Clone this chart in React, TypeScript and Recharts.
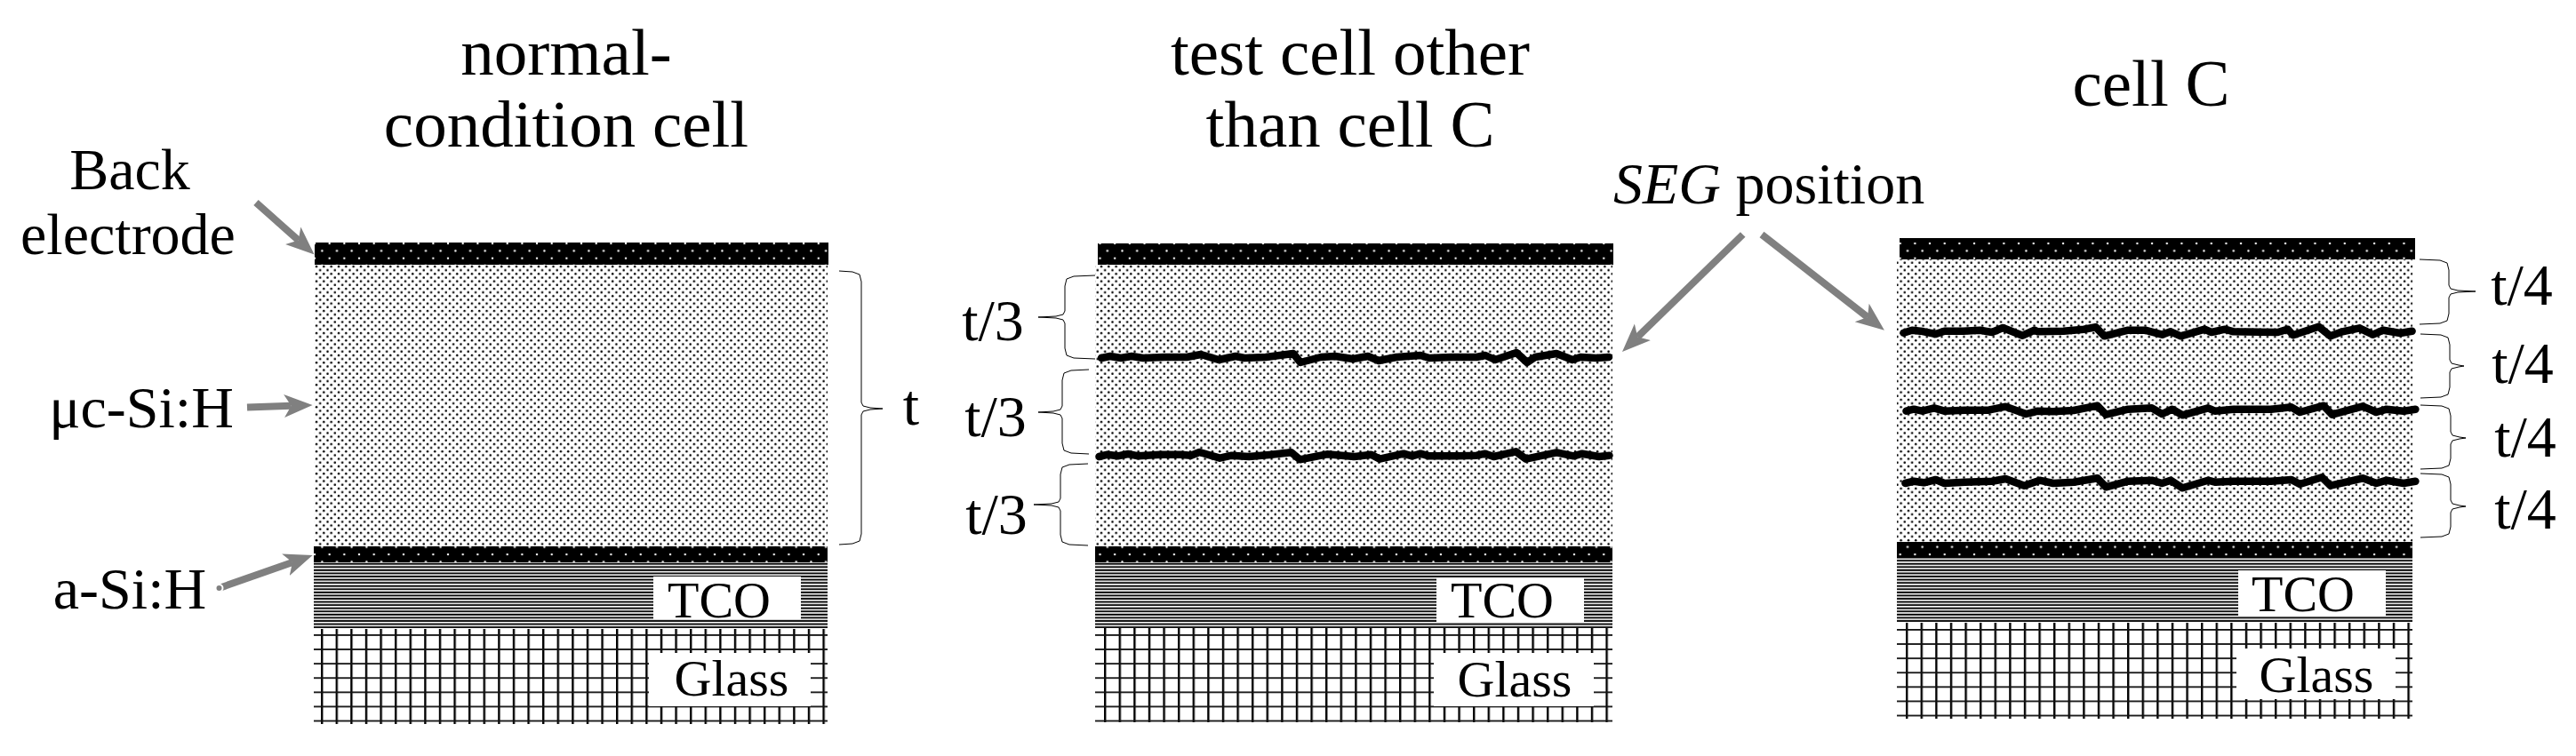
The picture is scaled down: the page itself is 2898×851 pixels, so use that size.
import React from "react";
import { ComposedChart, Line, ReferenceArea, ReferenceDot, XAxis, YAxis } from "recharts";

const WIDTH = 2898;
const HEIGHT = 851;
const SERIF = '"Liberation Serif", "Times New Roman", serif';
const GREY = "#808080";

// layer edges per cell (normal, test, cell C)
const cellLeft = [353, 1232, 2134];
const cellRight = [931, 1814, 2714];
const backLeft = [354, 1235, 2137];
const backRight = [932, 1815, 2717];
const backTop = [273, 274, 268];
const backBottom = [298, 298, 292];
const absorberBottom = [615, 615, 610];
const aSiBottom = [633, 633, 628];
const tcoBottom = [708, 707, 701];
const glassBottom = [815, 813, 809];
const gridOriginX = [362, 1243, 2145];
const gridOriginY = [715, 715, 709];

// white boxes behind the TCO / Glass captions
const tcoBoxLeft = [735, 1616, 2518];
const tcoBoxRight = [901, 1782, 2684];
const tcoBoxTop = [649, 650, 642];
const tcoBoxBottom = [697, 700, 693];
const glassBoxLeft = [730, 1613, 2516];
const glassBoxRight = [912, 1793, 2695];
const glassBoxTop = [735, 735, 730];
const glassBoxBottom = [795, 795, 787];

// SEG traces
const segTestUpperX = [1239, 1249, 1261, 1273, 1286, 1310, 1335, 1351, 1371, 1390, 1400, 1424, 1455, 1463, 1486, 1502, 1522, 1539, 1551, 1571, 1598, 1608, 1633, 1661, 1671, 1682, 1706, 1718, 1727, 1751, 1769, 1778, 1796, 1810];
const segTestUpperY = [403, 401, 403, 401, 403, 402, 402, 399, 405, 401, 403, 402, 398, 408, 402, 401, 404, 401, 406, 402, 400, 403, 402, 402, 400, 405, 397, 408, 402, 398, 405, 402, 403, 402];
const segTestLowerX = [1236.5, 1246, 1257.5, 1269, 1280.5, 1305.4, 1328.3, 1339.8, 1349.4, 1372.3, 1385.7, 1404.9, 1427.8, 1452.7, 1462.3, 1492.9, 1523.5, 1542.6, 1552.2, 1579, 1588.6, 1598.1, 1607.7, 1638.3, 1661.3, 1670.8, 1680.4, 1705.3, 1716.8, 1751.2, 1770.4, 1779.9, 1799, 1810.5];
const segTestLowerY = [514, 511.7, 513.3, 511, 513.3, 511.7, 511.7, 512.7, 509, 515.7, 512.7, 514, 512, 509.3, 517.3, 511.3, 514, 511.7, 516.7, 510.7, 513.3, 510.7, 513.3, 513.3, 512.7, 510.7, 514, 508.3, 516.7, 509.3, 513.3, 510.7, 514, 512.7];
const segCUpperX = [2141.5, 2151, 2160.6, 2177.8, 2187.4, 2208.5, 2227.6, 2241, 2253.2, 2275.4, 2288.8, 2292.6, 2321.4, 2344.3, 2357.7, 2367.3, 2394.1, 2413.2, 2432.3, 2441.9, 2453.4, 2480.2, 2487.8, 2503.1, 2512.7, 2562.5, 2573.9, 2579.7, 2608.4, 2621.8, 2635.2, 2654.3, 2669.6, 2681.1, 2700.2, 2713.6];
const segCUpperY = [374.7, 371.7, 372.7, 376, 372.7, 372.7, 371.7, 374, 369, 377.7, 371.7, 373.3, 372.7, 370.7, 368.3, 378.3, 371.7, 371.7, 376.7, 373.3, 378.3, 370.7, 374, 370.7, 373.3, 374, 370.7, 377.3, 367.7, 378.3, 373.3, 369.3, 376.7, 371.7, 375, 372.7];
const segCMiddleX = [2144.5, 2153, 2162.5, 2175.9, 2187.4, 2210.4, 2237.2, 2256.3, 2279.3, 2292.6, 2309.9, 2332.8, 2359.6, 2369.2, 2394.1, 2420.9, 2432.3, 2443.8, 2455.3, 2484, 2491.7, 2512.7, 2554.8, 2577.8, 2587.3, 2614.1, 2623.7, 2658.1, 2673.4, 2684.9, 2704, 2717.4];
const segCMiddleY = [462.7, 460.7, 462.7, 459.3, 462.7, 461.7, 461.7, 457.7, 466, 462.7, 463.3, 462, 456.7, 466.7, 460.7, 459.3, 466, 460.7, 467.3, 459.3, 462.7, 460.7, 460.7, 458.3, 464, 456.7, 466.7, 457.3, 464, 460.7, 462.7, 460.7];
const segCLowerX = [2143.4, 2153, 2164.4, 2177.8, 2187.4, 2210.4, 2241, 2256.3, 2277.3, 2294.6, 2309.9, 2332.8, 2359.6, 2369.2, 2394.1, 2420.9, 2432.3, 2441.9, 2455.3, 2484, 2491.7, 2512.7, 2554.8, 2577.8, 2587.3, 2612.2, 2621.8, 2658.1, 2673.4, 2684.9, 2704, 2717.4];
const segCLowerY = [544, 541.7, 543.3, 540, 544, 542.7, 541.7, 539, 546.7, 540.7, 544, 542.7, 538.3, 548.3, 541.7, 540.7, 544, 540.7, 549.3, 540.7, 542.7, 541.7, 541.7, 540, 545, 537.3, 546.7, 538.3, 544, 540.7, 544, 541.7];

// arrows: tail then the point where the head starts
const arrowX = [[288, 335.7], [278, 327.6], [246.5, 329], [1960.7, 1842.2], [1982, 2101]];
const arrowY = [[228, 270.5], [458.6, 456.8], [662, 633], [264, 379.3], [264, 357]];

// braces
const braceEnd = [944, 1232, 1225, 1224, 2722, 2723, 2723, 2723];
const braceSpine = [969, 1198, 1195, 1193, 2755, 2756, 2757, 2757];
const braceTip = [993, 1168, 1168, 1163, 2785, 2772, 2774, 2774];
const braceTop = [305, 310, 416, 522, 292, 376, 456, 533];
const braceMid = [460, 357, 464, 568, 328, 412, 493, 570];
const braceBottom = [613, 404, 511, 614, 365, 448, 528, 605];

// captions: text, centre x, baseline y, size
const captionText = ["normal-", "condition cell", "test cell other", "than cell C", "cell C", "Back", "electrode", "μc-Si:H", "a-Si:H", "t", "TCO", "Glass", "TCO", "Glass", "TCO", "Glass", "t/3", "t/3", "t/3", "t/4", "t/4", "t/4", "t/4"];
const captionX = [637, 637, 1519, 1519, 2420, 146, 144, 159, 146, 1025, 809, 823, 1690, 1704, 2591, 2606, 1117, 1120, 1121, 2837, 2838, 2841, 2841];
const captionY = [84, 165, 84, 165, 119, 213, 286, 481, 685, 478, 695, 783, 695, 784, 688, 779, 383, 491, 601, 343, 431, 514, 595];
const captionSize = [75, 75, 75, 75, 75, 66, 66, 66, 66, 66, 58, 58, 58, 58, 58, 58, 66, 66, 66, 66, 66, 66, 66];

const toPoints = (xs: number[], ys: number[]) => xs.map((x, i) => ({ x, y: ys[i] }));

function bracePoints(i: number) {
  const end = braceEnd[i], spine = braceSpine[i], tip = braceTip[i];
  const top = braceTop[i], mid = braceMid[i], bottom = braceBottom[i];
  const s = Math.sign(tip - spine);
  return [
    { x: end, y: top },
    { x: spine - 10 * s, y: top + 1 },
    { x: spine - 2 * s, y: top + 4 },
    { x: spine, y: top + 12 },
    { x: spine, y: mid - 7 },
    { x: spine + 2 * s, y: mid - 3 },
    { x: spine + 10 * s, y: mid - 1 },
    { x: tip, y: mid },
    { x: spine + 10 * s, y: mid + 1 },
    { x: spine + 2 * s, y: mid + 3 },
    { x: spine, y: mid + 7 },
    { x: spine, y: bottom - 12 },
    { x: spine - 2 * s, y: bottom - 4 },
    { x: spine - 10 * s, y: bottom - 1 },
    { x: end, y: bottom },
  ];
}

function area(key: string, x1: number, x2: number, y1: number, y2: number, fill: string) {
  return <ReferenceArea key={key} x1={x1} x2={x2} y1={y1} y2={y2} fill={fill} fillOpacity={1} stroke="none" />;
}

function Caption({ cx, cy, text, size }: any) {
  return (
    <text x={cx} y={cy} textAnchor="middle" fontFamily={SERIF} fontSize={size} fill="#000">
      {text}
    </text>
  );
}

function SegCaption({ cx, cy }: any) {
  return (
    <text x={cx} y={cy} fontFamily={SERIF} fontSize={66} fill="#000">
      <tspan fontStyle="italic">SEG</tspan> position
    </text>
  );
}

export default function App() {
  const segLines = [
    toPoints(segTestUpperX, segTestUpperY),
    toPoints(segTestLowerX, segTestLowerY),
    toPoints(segCUpperX, segCUpperY),
    toPoints(segCMiddleX, segCMiddleY),
    toPoints(segCLowerX, segCLowerY),
  ];
  return (
    <div style={{ position: "absolute", left: 0, top: 0, width: WIDTH, height: HEIGHT, background: "#fff" }}>
      <ComposedChart width={WIDTH} height={HEIGHT} margin={{ top: 0, right: 0, bottom: 0, left: 0 }}>
        <defs>
          <pattern id="backDots" width={16.67} height={16.67} x={354} y={273} patternUnits="userSpaceOnUse">
            <rect width={16.67} height={16.67} fill="#000" />
            <circle cx={16.67} cy={1} r={1.2} fill="#fff" />
            <circle cx={0} cy={1} r={1.2} fill="#fff" />
            <circle cx={8.33} cy={9.33} r={1.2} fill="#fff" />
          </pattern>
          <pattern id="absorberDots" width={8.33} height={8.33} x={354} y={298} patternUnits="userSpaceOnUse">
            <rect width={8.33} height={8.33} fill="#fff" />
            <circle cx={2} cy={2} r={1.25} fill="#000" />
            <circle cx={6.17} cy={6.17} r={1.25} fill="#000" />
          </pattern>
          <pattern id="tcoLines" width={10} height={3.57} y={633} patternUnits="userSpaceOnUse">
            <rect width={10} height={3.57} fill="#fff" />
            <rect y={0.7} width={10} height={1.9} fill="#000" />
          </pattern>
          {gridOriginX.map((ox, i) => (
            <pattern key={i} id={`glassGrid${i}`} width={16.6} height={16.1} x={ox - 1} y={gridOriginY[i] - 1} patternUnits="userSpaceOnUse">
              <rect width={16.6} height={16.1} fill="#fff" />
              <rect width={2.4} height={16.1} fill="#000" />
              <rect width={16.6} height={1.8} fill="#111" />
            </pattern>
          ))}
          <marker id="arrowHead" markerUnits="userSpaceOnUse" markerWidth={34} markerHeight={30} refX={8} refY={15} orient="auto">
            <path d="M32 15 L0 2 L8 15 L0 28 Z" fill={GREY} />
          </marker>
        </defs>

        <XAxis type="number" dataKey="x" domain={[0, WIDTH]} hide />
        <YAxis type="number" dataKey="y" domain={[0, HEIGHT]} reversed hide />

        {cellLeft.map((left, i) => [
          area(`back${i}`, backLeft[i], backRight[i], backTop[i], backBottom[i], "url(#backDots)"),
          area(`abs${i}`, left, cellRight[i], backBottom[i], absorberBottom[i], "url(#absorberDots)"),
          area(`asi${i}`, left, cellRight[i], absorberBottom[i], aSiBottom[i], "url(#backDots)"),
          area(`tco${i}`, left, cellRight[i], aSiBottom[i], tcoBottom[i], "url(#tcoLines)"),
          area(`glass${i}`, left, cellRight[i], tcoBottom[i], glassBottom[i], `url(#glassGrid${i})`),
          area(`tcoBox${i}`, tcoBoxLeft[i], tcoBoxRight[i], tcoBoxTop[i], tcoBoxBottom[i], "#fff"),
          area(`glassBox${i}`, glassBoxLeft[i], glassBoxRight[i], glassBoxTop[i], glassBoxBottom[i], "#fff"),
        ])}

        {segLines.map((points, i) => (
          <Line key={`seg${i}`} data={points} dataKey="y" type="linear" stroke="#000" strokeWidth={8.5} strokeLinejoin="round" strokeLinecap="round" dot={false} isAnimationActive={false} legendType="none" />
        ))}
        {arrowX.map((xs, i) => (
          <Line key={`arrow${i}`} data={toPoints(xs, arrowY[i])} dataKey="y" type="linear" stroke={GREY} strokeWidth={8} markerEnd="url(#arrowHead)" dot={false} isAnimationActive={false} legendType="none" />
        ))}
        {braceEnd.map((_, i) => (
          <Line key={`brace${i}`} data={bracePoints(i)} dataKey="y" type="linear" stroke="#000" strokeWidth={1} dot={false} isAnimationActive={false} legendType="none" />
        ))}

        {captionText.map((text, i) => (
          <ReferenceDot key={`cap${i}`} x={captionX[i]} y={captionY[i]} r={0} shape={(p: any) => <Caption {...p} text={text} size={captionSize[i]} />} />
        ))}
        <ReferenceDot x={1815} y={229} r={0} shape={(p: any) => <SegCaption {...p} />} />
      </ComposedChart>
    </div>
  );
}
